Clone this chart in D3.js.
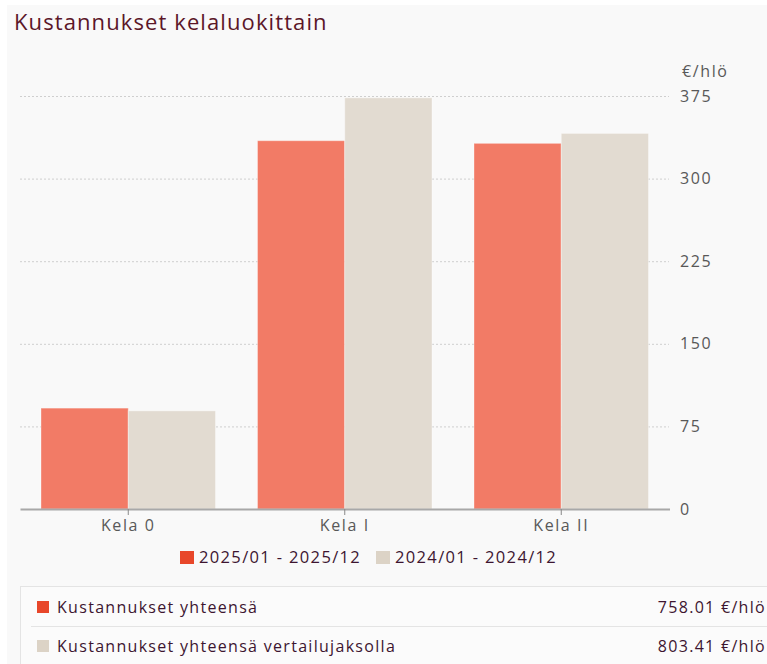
<!DOCTYPE html>
<html>
<head>
<meta charset="utf-8">
<script src="https://cdn.jsdelivr.net/npm/d3@7"></script>
<style>
  body { margin: 0; background: #fff; font-family: 'Open Sans', sans-serif; }
</style>
</head>
<body>
<div id="chart"></div>
<script>
const categories = ['Kela 0', 'Kela I', 'Kela II']
const current = [91.6, 334.4, 332.0]
const previous = [89.1, 373.3, 341.0]
const yTicks = [0, 75, 150, 225, 300, 375]
const seriesNames = ['2025/01 - 2025/12', '2024/01 - 2024/12']
const totalLabels = ['Kustannukset yhteensä', 'Kustannukset yhteensä vertailujaksolla']
const totalValues = ['758.01 €/hlö', '803.41 €/hlö']

const width = 767
const height = 664
const barColors = ['#f27b66', '#e2dbd1']
const keyColors = ['#e8472a', '#dcd3c6']
const font = "'Open Sans', sans-serif"

const svg = d3.select('#chart').append('svg')
  .attr('width', width)
  .attr('height', height)

// panel background
svg.append('rect')
  .attr('x', 7).attr('y', 5)
  .attr('width', width - 7).attr('height', height - 5)
  .attr('fill', '#f9f9f9')

svg.append('text')
  .attr('x', 14).attr('y', 30)
  .attr('fill', '#5b1628')
  .style('font-size', '22px')
  .style('letter-spacing', '1.1px')
  .text('Kustannukset kelaluokittain')

const x = d3.scaleBand().domain(categories).range([20, 669.5])
const pad = 21
const xInner = d3.scaleBand().domain([0, 1]).range([pad, x.bandwidth() - pad])
const y = d3.scaleLinear().domain([0, 375]).range([509, 96])

// grid
svg.append('g')
  .selectAll('line')
  .data(yTicks.filter(d => d > 0))
  .join('line')
  .attr('x1', 20).attr('x2', 669)
  .attr('y1', d => y(d) + 0.5).attr('y2', d => y(d) + 0.5)
  .attr('stroke', '#cfcfcf')
  .attr('stroke-dasharray', '2,2')

// y axis labels on right
const yAxis = svg.append('g')
  .attr('transform', 'translate(680,0)')
  .call(d3.axisRight(y).tickValues(yTicks).tickSize(0).tickPadding(0))
yAxis.select('.domain').remove()
yAxis.selectAll('text')
  .attr('fill', '#585858')
  .style('font-size', '16px')
  .style('letter-spacing', '1.6px')
  .style('font-family', font)

svg.append('text')
  .attr('x', 682).attr('y', 77)
  .attr('fill', '#585858')
  .style('font-size', '16px')
  .style('letter-spacing', '1.6px')
  .text('€/hlö')

// bars
const groups = svg.append('g')
  .selectAll('g')
  .data(categories)
  .join('g')
  .attr('transform', d => `translate(${x(d)},0)`)

groups.selectAll('rect')
  .data((d, i) => [current[i], previous[i]])
  .join('rect')
  .attr('x', (d, j) => xInner(j))
  .attr('width', xInner.bandwidth())
  .attr('y', d => y(d))
  .attr('height', d => y(0) - y(d))
  .attr('fill', (d, j) => barColors[j])
  .attr('stroke', 'rgba(255,255,255,0.35)')
  .attr('stroke-width', 1)

// x axis
const xAxis = svg.append('g')
  .attr('transform', 'translate(0,509)')
  .call(d3.axisBottom(x).tickSize(6).tickSizeOuter(0))
xAxis.select('.domain').attr('stroke', '#a8a8a8').attr('stroke-width', 2)
xAxis.selectAll('.tick line').attr('stroke', '#888')
xAxis.selectAll('text')
  .attr('y', 22).attr('dy', null)
  .attr('fill', '#585858')
  .style('font-size', '16px')
  .style('letter-spacing', '1.6px')
  .style('font-family', font)

// legend
const legendX = [180, 376]
const legend = svg.append('g')
  .selectAll('g')
  .data(seriesNames)
  .join('g')
  .attr('transform', (d, i) => `translate(${legendX[i]},550)`)
legend.append('rect')
  .attr('width', 14).attr('height', 13)
  .attr('y', 1)
  .attr('fill', (d, i) => keyColors[i])
legend.append('text')
  .attr('x', 19).attr('y', 13)
  .attr('fill', '#3d1530')
  .style('font-size', '16.5px')
  .style('letter-spacing', '1.35px')
  .text(d => d)

// totals table
svg.append('rect')
  .attr('x', 20.5).attr('y', 586.5)
  .attr('width', 760).attr('height', 90)
  .attr('fill', '#fbfbfb')
  .attr('stroke', '#e4e4e4')
svg.append('line')
  .attr('x1', 31).attr('x2', width)
  .attr('y1', 626.5).attr('y2', 626.5)
  .attr('stroke', '#e4e4e4')

const rows = svg.append('g')
  .selectAll('g')
  .data(totalLabels)
  .join('g')
  .attr('transform', (d, i) => `translate(0,${600 + i * 39})`)
rows.append('rect')
  .attr('x', 37).attr('width', 12).attr('height', 12).attr('y', 1)
  .attr('fill', (d, i) => keyColors[i])
rows.append('text')
  .attr('x', 57).attr('y', 13)
  .attr('fill', '#3d1530')
  .style('font-size', '16px')
  .style('letter-spacing', '1.3px')
  .text(d => d)
rows.append('text')
  .attr('x', 766).attr('y', 13)
  .attr('text-anchor', 'end')
  .attr('fill', '#3d1530')
  .style('font-size', '16px')
  .style('letter-spacing', '1.3px')
  .text((d, i) => totalValues[i])
</script>
</body>
</html>
